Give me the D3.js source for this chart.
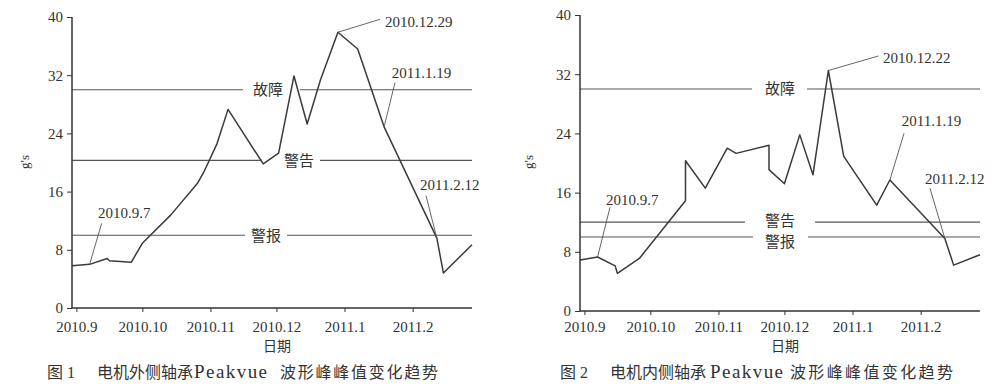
<!DOCTYPE html>
<html>
<head>
<meta charset="utf-8">
<script src="https://cdn.jsdelivr.net/npm/d3@7/dist/d3.min.js"></script>
<style>
  html, body { margin: 0; padding: 0; background: #fff; }
  svg { display: block; }
  text { font-family: "Liberation Serif", "Times New Roman", "DejaVu Serif", "Noto Sans CJK SC", serif; fill: #333; }
</style>
</head>
<body>
<svg id="chart" width="1004" height="392"></svg>
<script>
// ---------------- DATA ----------------
const dates1 = ["2010-08-30","2010-09-07","2010-09-15","2010-09-16","2010-09-26","2010-10-01","2010-10-14","2010-10-26","2010-10-29","2010-11-04","2010-11-09","2010-11-25","2010-12-02","2010-12-09","2010-12-15","2010-12-21","2010-12-29","2011-01-07","2011-01-19","2011-02-12","2011-02-15","2011-02-28"];
const values1 = [5.8, 6.0, 6.8, 6.5, 6.3, 8.9, 12.8, 17.1, 18.7, 22.6, 27.3, 19.8, 21.3, 31.9, 25.3, 31.3, 37.9, 35.6, 24.9, 9.6, 4.8, 8.7];

const dates2 = ["2010-08-30","2010-09-07","2010-09-15","2010-09-16","2010-09-26","2010-10-17","2010-10-17","2010-10-26","2010-11-05","2010-11-09","2010-11-24","2010-11-24","2010-12-01","2010-12-08","2010-12-14","2010-12-21","2010-12-28","2011-01-12","2011-01-18","2011-02-12","2011-02-16","2011-02-28"];
const values2 = [6.9, 7.3, 6.1, 5.1, 7.1, 14.9, 20.3, 16.6, 22.0, 21.3, 22.4, 19.1, 17.2, 23.8, 18.4, 32.5, 20.9, 14.3, 17.7, 9.8, 6.2, 7.6];

const thresholdNames = ["故障", "警告", "警报"];
const thresholds1 = [30, 20.3, 10];
const thresholds2 = [30, 12, 10];

const annLabels1 = ["2010.9.7", "2010.12.29", "2011.1.19", "2011.2.12"];
const annDates1 = ["2010-09-07", "2010-12-29", "2011-01-19", "2011-02-12"];
const annLabels2 = ["2010.9.7", "2010.12.22", "2011.1.19", "2011.2.12"];
const annDates2 = ["2010-09-07", "2010-12-21", "2011-01-18", "2011-02-12"];

const yTicks = [0, 8, 16, 24, 32, 40];
const xTickMonths = ["2010-09-01","2010-10-01","2010-11-01","2010-12-01","2011-01-01","2011-02-01"];
const xTickLabels = ["2010.9","2010.10","2010.11","2010.12","2011.1","2011.2"];
const xAxisTitle = "日期";
const yAxisTitle = "g's";
const titles1 = ["图 1", "电机外侧轴承", "Peakvue", "波形峰峰值变化趋势"];
const titles2 = ["图 2", "电机内侧轴承", "Peakvue", "波形峰峰值变化趋势"];

// ---------------- LAYOUT ----------------
const parse = d3.timeParse("%Y-%m-%d");
const domainX = [parse("2010-08-30"), parse("2011-02-28")];
const serif = "'Liberation Serif', 'Times New Roman', 'DejaVu Serif', serif";
const cjk = "'Liberation Serif', 'Noto Sans CJK SC', serif";

const layouts = [
  {
    dates: dates1, values: values1, thresholds: thresholds1,
    annLabels: annLabels1, annDates: annDates1, titles: titles1,
    x0: 72, x1: 472, yBottom: 308, yTop: 17, tickPad: 9.3,
    yLabelX: 24, xTitleX: 277,
    gaps: [[243, 300, 268, 0], [262, 320, 299, 0], [245, 287, 266, 0]],
    ann: [[98, 213, 101.7, 223.3], [385, 21.7, 380, 19.3], [391.7, 72.3, 395, 82.7], [420, 185, 426, 195.7]],
    titleX: [47, 97, 194, 280], titleW: [null, 96, 73, 158]
  },
  {
    dates: dates2, values: values2, thresholds: thresholds2,
    annLabels: annLabels2, annDates: annDates2, titles: titles2,
    x0: 580, x1: 980, yBottom: 311, yTop: 15, tickPad: 6.3,
    yLabelX: 528, xTitleX: 785,
    gaps: [[752, 807, 780, 0], [745, 815, 780, -1.5], [753, 808, 780, 5]],
    ann: [[606, 200, 610, 207.3], [883, 57.3, 878.3, 56], [901.7, 121, 904, 133.3], [925, 178.3, 930, 188.3]],
    titleX: [560, 610, 710, 790], titleW: [null, 96, 73, 163]
  }
];

const svg = d3.select("#chart");
const ink = "#333";

layouts.forEach(L => {
  const x = d3.scaleTime().domain(domainX).range([L.x0, L.x1]);
  const y = d3.scaleLinear().domain([0, 40]).range([L.yBottom, L.yTop]);
  const g = svg.append("g");

  // threshold lines with gaps for labels
  L.thresholds.forEach((v, i) => {
    const gp = L.gaps[i];
    const yy = y(v);
    g.append("line").attr("x1", L.x0).attr("x2", gp[0]).attr("y1", yy).attr("y2", yy)
      .attr("stroke", "#555").attr("stroke-width", 1.2);
    g.append("line").attr("x1", gp[1]).attr("x2", L.x1).attr("y1", yy).attr("y2", yy)
      .attr("stroke", "#555").attr("stroke-width", 1.2);
    g.append("text").attr("x", gp[2]).attr("y", yy + gp[3]).attr("dy", "0.36em")
      .attr("text-anchor", "middle").style("font-size", "15px")
      .style("font-family", cjk).text(thresholdNames[i]);
  });

  // data line
  const pts = L.dates.map((d, i) => ({ date: parse(d), value: L.values[i] }));
  const line = d3.line().x(d => x(d.date)).y(d => y(d.value));
  g.append("path").datum(pts).attr("d", line).attr("fill", "none")
    .attr("stroke", "#3a3a3a").attr("stroke-width", 1.5).attr("stroke-linejoin", "round");

  // annotations
  L.annLabels.forEach((lab, i) => {
    const a = L.ann[i];
    const idx = L.dates.indexOf(L.annDates[i]);
    const px = x(parse(L.dates[idx])), py = y(L.values[idx]);
    g.append("line").attr("x1", a[2]).attr("y1", a[3]).attr("x2", px).attr("y2", py)
      .attr("stroke", "#555").attr("stroke-width", 0.9);
    g.append("text").attr("x", a[0]).attr("y", a[1]).attr("dy", "0.35em")
      .style("font-size", "15px").style("font-family", serif).text(lab);
  });

  // axes
  const xAxis = d3.axisBottom(x)
    .tickValues(xTickMonths.map(parse))
    .tickFormat((d, i) => xTickLabels[i])
    .tickSize(4).tickPadding(L.tickPad);
  const gx = g.append("g").attr("transform", `translate(0,${L.yBottom})`).call(xAxis);
  gx.attr("font-family", null);
  gx.select(".domain").attr("d", `M${L.x0},0H${L.x1}`).attr("stroke", ink).attr("stroke-width", 1.5);
  gx.selectAll(".tick line").attr("stroke", ink);
  gx.selectAll("text").style("font-size", "15px").style("font-family", serif).attr("fill", ink);

  const yAxis = d3.axisLeft(y).tickValues(yTicks).tickSize(5).tickPadding(4);
  const gy = g.append("g").attr("transform", `translate(${L.x0},0)`).call(yAxis);
  gy.attr("font-family", null);
  gy.select(".domain").attr("d", `M0,${L.yBottom}V${L.yTop}`).attr("stroke", ink).attr("stroke-width", 1.5);
  gy.selectAll(".tick line").attr("stroke", ink);
  gy.selectAll("text").style("font-size", "15px").style("font-family", serif).attr("fill", ink);

  // axis titles
  g.append("text").attr("x", L.xTitleX).attr("y", 351).attr("text-anchor", "middle")
    .style("font-size", "14px").style("font-family", cjk).text(xAxisTitle);
  g.append("text").attr("transform", `translate(${L.yLabelX},162) rotate(-90)`)
    .attr("text-anchor", "middle").attr("dy", "0.35em")
    .style("font-size", "13px").style("font-family", serif).text(yAxisTitle);

  // figure caption
  const cap = g.append("text").attr("y", 378).style("font-size", "16px")
    .style("font-family", cjk).attr("fill", "#444");
  L.titles.forEach((t, i) => {
    const ts = cap.append("tspan").attr("x", L.titleX[i]).text(t);
    if (t === "Peakvue") ts.style("font-size", "19px");
    if (L.titleW[i]) ts.attr("textLength", L.titleW[i]).attr("lengthAdjust", "spacing");
  });
});
</script>
</body>
</html>
